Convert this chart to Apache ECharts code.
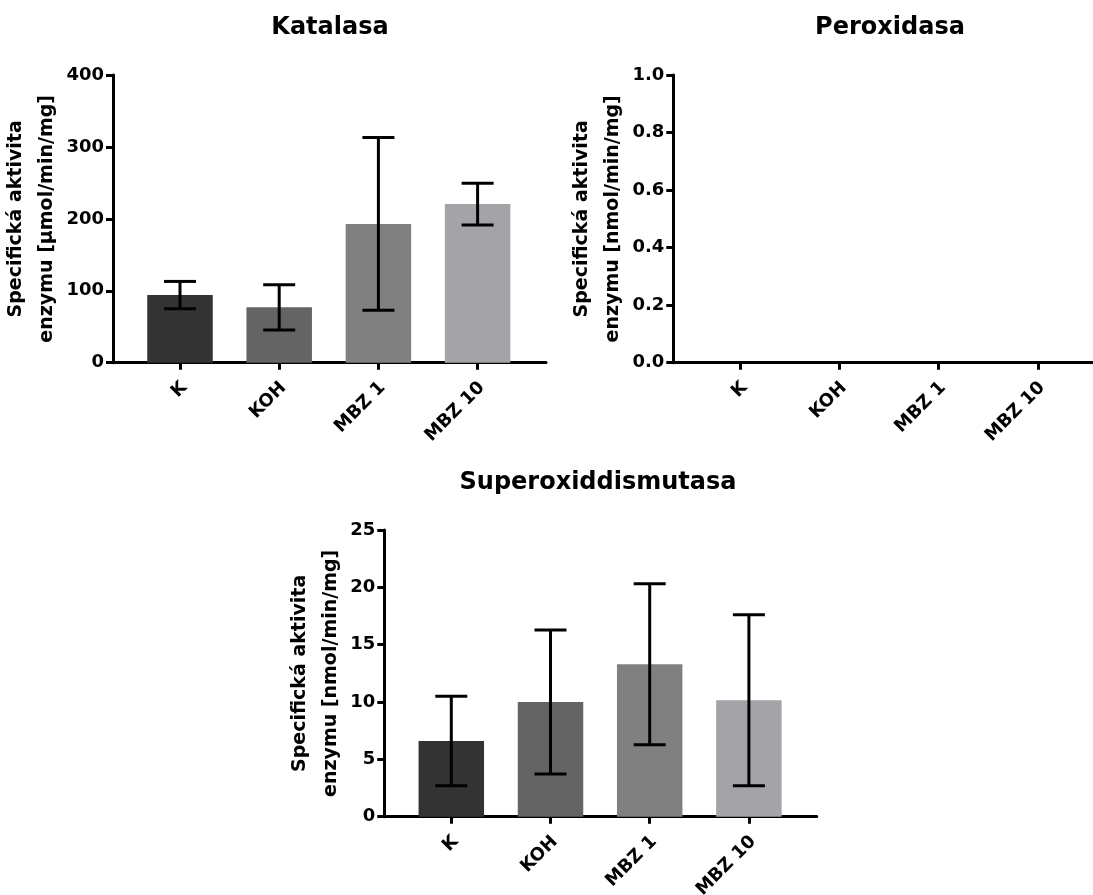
<!DOCTYPE html>
<html><head><meta charset="utf-8">
<script src="https://cdn.jsdelivr.net/npm/echarts@6/dist/echarts.min.js"></script>
<style>html,body{margin:0;padding:0;background:#fff}#c{width:1093px;height:895px}</style>
</head><body><div id="c"></div>
<script>
// ---- data ----
const categories = ['K', 'KOH', 'MBZ 1', 'MBZ 10'];
const barColors = ['#333333', '#646464', '#808080', '#a3a3a8'];
const katalasaMean = [94, 77, 193, 220.5];
const katalasaSD = [19, 31.5, 120, 29];
const peroxidasaMean = [];
const peroxidasaSD = [];
const sodMean = [6.6, 10.0, 13.3, 10.15];
const sodSD = [3.9, 6.28, 7.02, 7.45];
const titles = ['Katalasa', 'Peroxidasa', 'Superoxiddismutasa'];
const yNames = [
  'Specifická aktivita\nenzymu [µmol/min/mg]',
  'Specifická aktivita\nenzymu [nmol/min/mg]',
  'Specifická aktivita\nenzymu [nmol/min/mg]'
];
const yMax = [400, 1.0, 25];
const yInterval = [100, 0.2, 5];
const yDecimals = [0, 1, 0];

// ---- layout ----
const FONT = 'DejaVu Sans';
const layout = [
  { titleX: 330, titleY: 16, left: 113, top: 75, width: 433, height: 287.7, nameGap: 43 },
  { titleX: 890, titleY: 16, left: 673.3, top: 75, width: 433, height: 287.7, nameGap: 42 },
  { titleX: 598, titleY: 471, left: 384.3, top: 530, width: 432.4, height: 286.7, nameGap: 36 }
];
const means = [katalasaMean, peroxidasaMean, sodMean];
const sds = [katalasaSD, peroxidasaSD, sodSD];
const GAP = 17.4, BAND = 99.2;

function errRender(params, api) {
  const i = api.value(0), lo = api.value(1), hi = api.value(2);
  const t = api.coord([i, hi]), b = api.coord([i, lo]);
  const h = 16;
  const st = { stroke: '#000', lineWidth: 3 };
  return { type: 'group', children: [
    { type: 'line', shape: { x1: t[0], y1: t[1], x2: b[0], y2: b[1] }, style: st },
    { type: 'line', shape: { x1: t[0] - h, y1: t[1], x2: t[0] + h, y2: t[1] }, style: st },
    { type: 'line', shape: { x1: b[0] - h, y1: b[1], x2: b[0] + h, y2: b[1] }, style: st }
  ]};
}

const option = { backgroundColor: '#fff', animation: false, title: [], grid: [], xAxis: [], yAxis: [], series: [] };
layout.forEach((L, p) => {
  option.title.push({ text: titles[p], left: L.titleX, top: L.titleY, textAlign: 'center', padding: 0,
    textStyle: { fontFamily: FONT, fontSize: 24, fontWeight: 'bold', color: '#000' } });
  option.grid.push({ left: L.left, top: L.top, width: L.width, height: L.height, containLabel: false, outerBoundsMode: 'none' });
  option.grid.push({ left: L.left + GAP, top: L.top, width: BAND * 4, height: L.height, containLabel: false, outerBoundsMode: 'none' });
  const fg = 2 * p, pg = 2 * p + 1;
  option.xAxis.push({ type: 'value', gridIndex: fg, min: 0, max: 1,
    axisLine: { show: true, lineStyle: { color: '#000', width: 3 } },
    axisTick: { show: false }, axisLabel: { show: false }, splitLine: { show: false } });
  option.xAxis.push({ type: 'category', gridIndex: pg, data: categories,
    axisLine: { show: false },
    axisTick: { show: true, alignWithLabel: true, length: 7, lineStyle: { color: '#000', width: 3 } },
    axisLabel: { interval: 0, rotate: 45, margin: 18, verticalAlign: 'top', lineHeight: 12,
      color: '#000', fontFamily: FONT, fontSize: 18, fontWeight: 'bold' },
    splitLine: { show: false } });
  option.yAxis.push({ type: 'value', gridIndex: fg, min: 0, max: yMax[p], interval: yInterval[p],
    name: yNames[p], nameLocation: 'middle', nameGap: L.nameGap,
    nameTextStyle: { fontFamily: FONT, fontSize: 19, fontWeight: 'bold', color: '#000', lineHeight: 31 },
    axisLine: { show: true, lineStyle: { color: '#000', width: 3 } },
    axisTick: { show: true, length: 7, lineStyle: { color: '#000', width: 3 } },
    axisLabel: { margin: 9, color: '#000', fontFamily: FONT, fontSize: 18, fontWeight: 'bold',
      formatter: v => v.toFixed(yDecimals[p]) },
    splitLine: { show: false } });
  option.yAxis.push({ type: 'value', gridIndex: pg, min: 0, max: yMax[p], show: false, splitLine: { show: false } });
  option.series.push({ type: 'bar', xAxisIndex: pg, yAxisIndex: pg, barWidth: '66%',
    data: means[p].map((v, i) => ({ value: v, itemStyle: { color: barColors[i] } })), z: 2 });
  option.series.push({ type: 'custom', xAxisIndex: pg, yAxisIndex: pg, renderItem: errRender, z: 3,
    encode: { x: 0, y: [1, 2] },
    data: means[p].map((v, i) => [i, v - sds[p][i], v + sds[p][i]]) });
});

const chart = echarts.init(document.getElementById('c'), null, { renderer: 'canvas' });
chart.setOption(option);
</script></body></html>
